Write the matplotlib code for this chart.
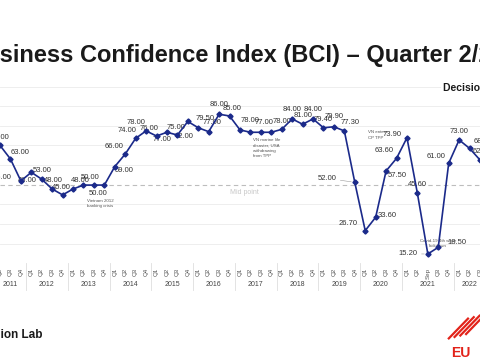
import matplotlib.pyplot as plt
from matplotlib.lines import Line2D

plt.rcParams['font.family'] = ['Liberation Sans', 'DejaVu Sans']

# data (2011 Q2 .. 2022 Q3)
years = ['2011', '2012', '2013', '2014', '2015', '2016', '2017', '2018',
         '2019', '2020', '2021', '2022']
year_quarters = [
    ['Q2', 'Q3', 'Q4'],
    ['Q1', 'Q2', 'Q3', 'Q4'],
    ['Q1', 'Q2', 'Q3', 'Q4'],
    ['Q1', 'Q2', 'Q3', 'Q4'],
    ['Q1', 'Q2', 'Q3', 'Q4'],
    ['Q1', 'Q2', 'Q3', 'Q4'],
    ['Q1', 'Q2', 'Q3', 'Q4'],
    ['Q1', 'Q2', 'Q3', 'Q4'],
    ['Q1', 'Q2', 'Q3', 'Q4'],
    ['Q1', 'Q2', 'Q3', 'Q4'],
    ['Q1', 'Q2', 'Sep', 'Q3', 'Q4'],
    ['Q1', 'Q2', 'Q3'],
]
bci = [70.0, 63.1, 51.9,
       56.3, 52.8, 47.8, 44.8,
       47.8, 49.8, 49.8, 49.8,
       59.2, 65.6, 73.6, 77.4,
       74.8, 76.7, 75.3, 82.2,
       79.0, 77.0, 85.9, 85.0,
       77.9, 76.7, 76.7, 76.7,
       78.2, 83.5, 80.8, 83.5,
       79.0, 79.5, 77.4, 51.2,
       26.6, 33.4, 57.0, 63.4,
       73.9, 45.6, 14.7, 18.1, 60.9,
       72.8, 68.5, 62.6]
bci_labels = ['70.00', '63.00', '46.00',
              '53.00', '48.00', '45.00', None,
              '48.00', '50.00', '50.00', None,
              '59.00', '66.00', '74.00', '78.00',
              '76.00', '77.00', '75.00', '72.00',
              '79.50', '77.00', '86.00', '85.00',
              '78.00', None, '77.00', None,
              '78.00', '84.00', '81.00', '84.00',
              '79.40', '79.90', '77.30', '52.00',
              '26.70', '33.60', '57.50', '63.60',
              '73.90', '45.60', '15.20', '18.50', '61.00',
              '73.00', '68.50', '62.60']

# label placement (pixels from the point) and which get a leader line
label_offsets = [(0, 8), (10, 6), (6, 0),
                 (11, 2), (11.5, -1), (9, 2), None,
                 (7, 9), (7, 8), (4, -8), None,
                 (9.5, -3.5), (-11.5, 8), (-9, 7.6), (-10, 8.3),
                 (-7, 8), (-5, -7), (-1, 8), (-4, -15),
                 (6.5, 9.4), (3, 9), (0, 9.3), (2, 7.7),
                 (10, 9), None, (3, 10), None,
                 (0, 8.3), (0, 9), (0, 8.6), (0, 9),
                 (0, 8.7), (0, 10.5), (6, 8.5), (-28, 4),
                 (-17, 7), (12, 1.3), (11.5, -5), (-12, 7.6),
                 (-15, 3.7), (0, 9.3), (-20, 0), (18.7, 4.6), (-12.5, 6.6),
                 (0, 8.3), (14, 7), (2, 8.3)]
leaders = [14, 34, 35, 38, 39, 41]

# a stray value label at the left edge of the slide crop
extra_labels = [(0.25, 53.9, '56.00')]

events = [
    (9.63, 40.4, 'Vietnam 2012\nbanking crisis', 'center', 'center'),
    (24.2, 73.8, 'VN marine life\ndisaster, USA\nwithdrawing\nfrom TPP', 'left', 'top'),
    (35.3, 75.3, 'VN enters\nCP TPP', 'left', 'center'),
    (41.96, 20.0, 'Covid-19 4th wave\nlockdown', 'center', 'center'),
]

line_color = '#1b2a8a'

fig = plt.figure(figsize=(4.8, 3.6), dpi=100)
ax = fig.add_axes([0, 0.2689, 1, 0.4907])

tick_labels = [q for qs in year_quarters for q in qs]
x = list(range(len(tick_labels)))

ax.plot(x, bci, color=line_color, lw=1.2, marker='D', ms=2.6, zorder=3)

for i, (val, txt, off) in enumerate(zip(bci, bci_labels, label_offsets)):
    if txt is None:
        continue
    arrow = None
    if i in leaders:
        arrow = dict(arrowstyle='-', color='#9a9a9a', lw=0.4, shrinkA=1, shrinkB=2.5)
    ax.annotate(txt, (i, val), xytext=off, textcoords='offset pixels',
                ha='center', va='center', fontsize=5.5, color='#333333',
                zorder=2, arrowprops=arrow)

for ex, ey, txt in extra_labels:
    ax.text(ex, ey, txt, ha='center', va='center', fontsize=5.5,
            color='#333333', zorder=2)

for ex, ey, txt, ha, va in events:
    ax.text(ex, ey, txt, ha=ha, va=va, fontsize=3.2, color='#555555',
            linespacing=1.45, zorder=2)

# mid point line
ax.axhline(50, color='#bdbdbd', lw=0.8, ls=(0, (4, 3)), zorder=1)
ax.text(23.43, 46.1, 'Mid point', ha='center', va='center', fontsize=5,
        color='#c8c8c8')

ax.set_xlim(0.441, 45.94)
ax.set_ylim(10, 100)
ax.set_yticks([20, 30, 40, 60, 70, 80, 90, 100])
ax.yaxis.grid(True, color='#ebebeb', lw=0.6)
ax.set_axisbelow(True)
ax.tick_params(axis='y', length=0, labelleft=False)
ax.set_xticks(x)
ax.set_xticklabels(tick_labels, rotation=90, fontsize=4.5, color='#555555')
ax.tick_params(axis='x', length=0, pad=3.4)
for s in ax.spines.values():
    s.set_visible(False)

# year labels and separators under the quarter ticks
trans = ax.get_xaxis_transform()
start = 0
for yr, qs in zip(years, year_quarters):
    n = len(qs)
    ax.text(start + (n - 1) / 2, -0.123, yr, transform=trans, ha='center',
            va='center', fontsize=5, color='#444444', clip_on=False)
    if start > 0:
        ax.plot([start - 0.5, start - 0.5], [0, -0.152], transform=trans,
                color='#dedede', lw=0.6, clip_on=False)
    start += n

# slide decoration
fig.text(-0.0658, 0.828, 'Business Confidence Index (BCI) \u2013 Quarter 2/2022',
         fontsize=17, fontweight='bold', color='#1a1a1a', va='baseline')
fig.text(0.923, 0.7556, 'Decision Lab', fontsize=7.5, fontweight='bold',
         color='#1a1a1a', va='center',
         bbox=dict(facecolor='white', edgecolor='none', pad=1.5))
fig.text(-0.0656, 0.0611, 'Decision Lab', fontsize=8.5, fontweight='bold',
         color='#1a1a1a', va='baseline')
for k in range(4):
    fig.add_artist(Line2D([0.935 + k * 0.012, 0.975 + k * 0.012],
                          [0.06 + k * 0.004, 0.115 + k * 0.004],
                          color='#e2231a', lw=1.6))
fig.text(0.94, 0.008, 'EU', fontsize=10, fontweight='bold', color='#e2231a',
         va='baseline')

fig.savefig('out.png', dpi=100)
